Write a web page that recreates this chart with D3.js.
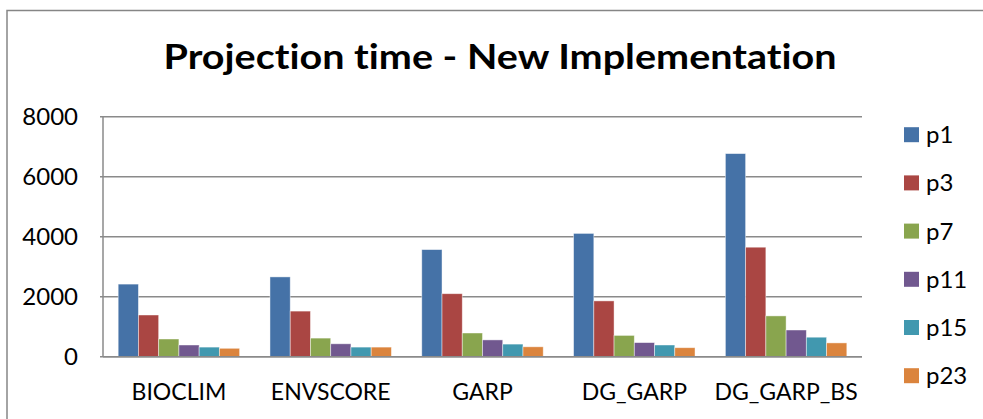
<!DOCTYPE html>
<html>
<head>
<meta charset="utf-8">
<script src="https://cdn.jsdelivr.net/npm/d3@7"></script>
<style>
  html, body { margin: 0; padding: 0; background: #fff; }
  svg { display: block; }
  text { font-family: Lato, "Open Sans", sans-serif; fill: #000; font-variant-ligatures: none; font-feature-settings: "liga" 0, "clig" 0; }
</style>
</head>
<body>
<svg id="chart" width="983" height="419"></svg>
<script>
const categories = ["BIOCLIM", "ENVSCORE", "GARP", "DG_GARP", "DG_GARP_BS"];
const seriesNames = ["p1", "p3", "p7", "p11", "p15", "p23"];
const p1  = [2420, 2660, 3570, 4110, 6770];
const p3  = [1390, 1520, 2100, 1860, 3650];
const p7  = [590, 620, 790, 710, 1360];
const p11 = [390, 430, 560, 470, 890];
const p15 = [320, 320, 420, 390, 650];
const p23 = [280, 320, 330, 300, 460];
const yTicks = [0, 2000, 4000, 6000, 8000];
const colors = ["#4572A7", "#AA4643", "#89A54E", "#71588F", "#4198AF", "#DB843D"];
const title = "Projection time - New Implementation";

const seriesValues = [p1, p3, p7, p11, p15, p23];

const svg = d3.select("#chart");
const margin = { left: 103, right: 862, top: 116.7, bottom: 356.7 };

// outer chart border
svg.append("rect")
  .attr("x", 7).attr("y", 10.5)
  .attr("width", 1000).attr("height", 430)
  .attr("fill", "none").attr("stroke", "#868686").attr("stroke-width", 1.5);

// title
svg.append("text")
  .attr("x", 500).attr("y", 69.3)
  .attr("text-anchor", "middle")
  .attr("font-size", 34).attr("font-weight", "bold")
  .attr("textLength", 673).attr("lengthAdjust", "spacingAndGlyphs")
  .text(title);

const y = d3.scaleLinear().domain([0, 8000]).range([margin.bottom, margin.top]);
const x0 = d3.scaleBand().domain(categories).range([margin.left, margin.right]).paddingInner(0).paddingOuter(0);
// gap width 150%: bars occupy 6/7.5 of the band
const innerPad = 1.5 / 7.5 / 2;
const x1 = d3.scaleBand().domain(seriesNames)
  .range([x0.bandwidth() * innerPad, x0.bandwidth() * (1 - innerPad)]).padding(0);
const color = d3.scaleOrdinal().domain(seriesNames).range(colors);

// gridlines
svg.append("g").selectAll("line").data(yTicks).join("line")
  .attr("x1", margin.left - 3).attr("x2", margin.right)
  .attr("y1", d => y(d)).attr("y2", d => y(d))
  .attr("stroke", "#8a8a8a").attr("stroke-width", 1.5);

// y axis line
svg.append("line")
  .attr("x1", margin.left).attr("x2", margin.left)
  .attr("y1", margin.top).attr("y2", margin.bottom)
  .attr("stroke", "#8a8a8a").attr("stroke-width", 1.5);

// y tick labels
const yAxis = d3.axisLeft(y).tickValues(yTicks).tickSize(0).tickPadding(0).tickFormat(d3.format("d"));
const gy = svg.append("g").attr("transform", `translate(78,0)`).call(yAxis);
gy.select(".domain").remove();
gy.selectAll("text").attr("font-size", 24).attr("font-family", "Lato, sans-serif").attr("fill", "#000");

// bars
const groups = svg.append("g").selectAll("g").data(categories).join("g")
  .attr("transform", d => `translate(${x0(d)},0)`);
groups.selectAll("rect")
  .data((c, i) => seriesNames.map((s, j) => ({ s, v: seriesValues[j][i] })))
  .join("rect")
  .attr("x", d => x1(d.s))
  .attr("width", x1.bandwidth())
  .attr("y", d => y(d.v))
  .attr("height", d => y(0) - y(d.v))
  .attr("fill", d => color(d.s))
  .attr("stroke", "rgba(255,255,255,0.55)")
  .attr("stroke-width", 0.8);

// x axis line on top of bars
svg.append("line")
  .attr("x1", margin.left).attr("x2", margin.right)
  .attr("y1", margin.bottom).attr("y2", margin.bottom)
  .attr("stroke", "#8a8a8a").attr("stroke-width", 1.5);

// x labels
const xAxis = d3.axisBottom(x0).tickSize(0).tickPadding(0);
const gx = svg.append("g").attr("transform", `translate(0,${margin.bottom})`).call(xAxis);
gx.select(".domain").remove();
gx.selectAll("text")
  .attr("dy", null).attr("y", 43)
  .attr("font-size", 23).attr("font-family", "Lato, sans-serif").attr("fill", "#000");

// legend
const legend = svg.append("g").selectAll("g").data(seriesNames).join("g")
  .attr("transform", (d, i) => `translate(904,${134.7 + i * 48.2})`);
legend.append("rect")
  .attr("x", 0).attr("y", -7.5).attr("width", 15).attr("height", 15)
  .attr("fill", d => color(d));
legend.append("text")
  .attr("x", 22).attr("y", 8.5)
  .attr("font-size", 24)
  .text(d => d);
</script>
</body>
</html>
